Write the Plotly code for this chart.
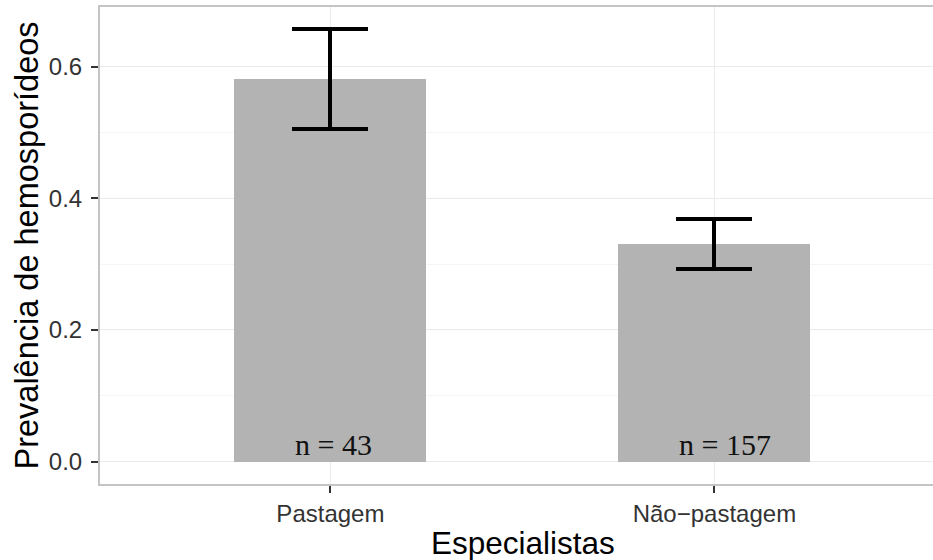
import plotly.graph_objects as go

# Prevalence of haemosporidians by habitat specialisation
categories = ["Pastagem", "N\u00e3o\u2212pastagem"]
prevalence = [0.581, 0.331]
std_error = [0.076, 0.038]
sample_labels = ["n = 43", "n = 157"]
y_ticks = [0.0, 0.2, 0.4, 0.6]

W, H = 933, 560
M_L, M_T, M_B = 100, 7, 76
plot_w = W - M_L
px_per_cat = 384.0

fig = go.Figure()
fig.add_trace(go.Bar(
    x=categories,
    y=prevalence,
    width=0.5,
    marker=dict(color="#b3b3b3", line=dict(width=0)),
    error_y=dict(type="data", array=std_error, visible=True,
                 color="black", thickness=4, width=38),
    hoverinfo="skip",
))

annotations = []
for cat, lab in zip(categories, sample_labels):
    annotations.append(dict(
        x=cat, y=0, xref="x", yref="y", text=lab, showarrow=False,
        xanchor="left", yanchor="bottom", xshift=-37, yshift=-1,
        font=dict(family="Liberation Serif, Times New Roman, serif", size=30, color="#111111"),
    ))

# axis titles placed in pixel terms relative to the plotting area
annotations.append(dict(
    text="Especialistas", xref="paper", yref="paper",
    x=(522.5 - M_L) / plot_w, y=0,
    showarrow=False, xanchor="center", yanchor="top",
    yshift=-(523 - (H - M_B)),
    font=dict(family="Liberation Sans, Arial, sans-serif", size=31.5, color="black"),
))
annotations.append(dict(
    text="Preval\u00eancia de hemospor\u00eddeos", xref="paper", yref="paper",
    x=(26 - M_L) / plot_w, y=0.5, textangle=-90,
    showarrow=False, xanchor="center", yanchor="middle",
    font=dict(family="Liberation Sans, Arial, sans-serif", size=32.5, color="black"),
))

fig.update_layout(
    width=W, height=H,
    margin=dict(l=M_L, r=0, t=M_T, b=M_B, pad=0),
    paper_bgcolor="white", plot_bgcolor="white",
    showlegend=False,
    bargap=0,
    annotations=annotations,
    font=dict(family="Liberation Sans, Arial, sans-serif"),
)

fig.update_xaxes(
    type="category",
    range=[-0.6, -0.6 + plot_w / px_per_cat],
    showgrid=True, gridcolor="#ebebeb", gridwidth=1.3,
    showline=True, mirror=True, linecolor="#c4c4c4", linewidth=2,
    ticks="outside", ticklen=7, tickwidth=1.5, tickcolor="#333333",
    tickfont=dict(family="Liberation Sans, Arial, sans-serif", size=24, color="#333333"),
    zeroline=False,
)
fig.update_yaxes(
    range=[-0.0339, 0.6905],
    tickvals=y_ticks, ticktext=[f"{v:.1f}" for v in y_ticks],
    showgrid=True, gridcolor="#ebebeb", gridwidth=1.3,
    minor=dict(showgrid=True, gridcolor="#f5f5f5", gridwidth=1.2, tick0=0.1, dtick=0.2),
    showline=True, mirror=False, linecolor="#c4c4c4", linewidth=2,
    ticks="outside", ticklen=7, tickwidth=1.5, tickcolor="#333333",
    ticklabelstandoff=4,
    tickfont=dict(family="Liberation Sans, Arial, sans-serif", size=24, color="#333333"),
    zeroline=False,
)

fig.write_html("out.html")
